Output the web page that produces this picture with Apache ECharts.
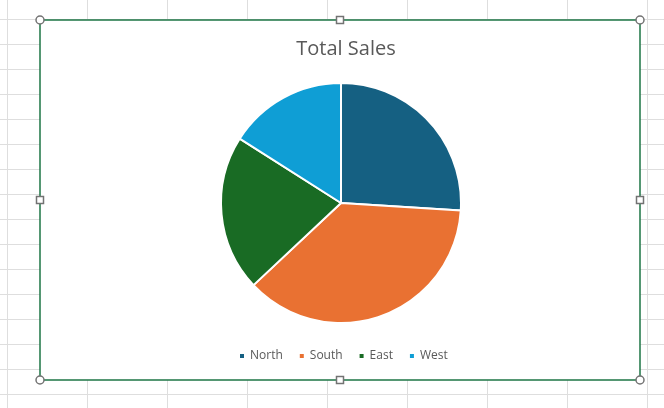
<!DOCTYPE html>
<html>
<head>
<meta charset="utf-8">
<script src="https://cdn.jsdelivr.net/npm/echarts@6/dist/echarts.min.js"></script>
<style>
  html, body { margin: 0; padding: 0; width: 664px; height: 408px; overflow: hidden; }
  body {
    background-color: #ffffff;
    background-image:
      linear-gradient(to right, #dedede 0, #dedede 1px, transparent 1px),
      linear-gradient(to bottom, #dedede 0, #dedede 1px, transparent 1px);
    background-size: 80px 25px;
    background-position: 7px 19px;
  }
  #chart { position: absolute; left: 0; top: 0; width: 664px; height: 408px; }
</style>
</head>
<body>
<div id="chart"></div>
<script>
const titleText = 'Total Sales';
const categories = ['North', 'South', 'East', 'West'];
const salesValues = [26, 37, 21, 16];
const sliceColors = ['#156082', '#E97132', '#196B24', '#0F9ED5'];

const chart = echarts.init(document.getElementById('chart'), null, { renderer: 'canvas' });

const box = { x: 40, y: 20, w: 600, h: 360 };
const handleStyle = { fill: '#ffffff', stroke: '#737373', lineWidth: 1.5 };
const handles = [];
const corners = [[box.x, box.y], [box.x + box.w, box.y], [box.x, box.y + box.h], [box.x + box.w, box.y + box.h]];
corners.forEach(function (c) {
  handles.push({ type: 'circle', shape: { cx: c[0], cy: c[1], r: 4 }, style: handleStyle, z: 20 });
});
const mids = [[box.x + box.w / 2, box.y], [box.x + box.w / 2, box.y + box.h], [box.x, box.y + box.h / 2], [box.x + box.w, box.y + box.h / 2]];
mids.forEach(function (c) {
  handles.push({ type: 'rect', shape: { x: c[0] - 3.5, y: c[1] - 3.5, width: 7, height: 7 }, style: handleStyle, z: 20 });
});

chart.setOption({
  backgroundColor: 'transparent',
  animation: false,
  title: {
    text: titleText,
    left: 341,
    textAlign: 'center',
    top: 34,
    textStyle: { fontFamily: 'Open Sans', fontSize: 20, fontWeight: 'normal', color: '#595959' }
  },
  legend: {
    data: categories,
    left: 238,
    top: 350,
    padding: 0,
    icon: 'rect',
    itemWidth: 6,
    itemHeight: 6,
    itemGap: 15,
    textStyle: { fontFamily: 'Open Sans', fontSize: 12, color: '#595959' }
  },
  graphic: [
    { type: 'rect', shape: { x: box.x, y: box.y, width: box.w, height: box.h },
      style: { fill: '#ffffff', stroke: '#1e7545', lineWidth: 1.5 }, z: -10, silent: true }
  ].concat(handles),
  series: [{
    type: 'pie',
    center: [341, 203],
    radius: 120,
    startAngle: 90,
    clockwise: true,
    label: { show: false },
    labelLine: { show: false },
    itemStyle: { borderColor: '#ffffff', borderWidth: 2 },
    data: categories.map(function (name, i) {
      return { name: name, value: salesValues[i], itemStyle: { color: sliceColors[i] } };
    })
  }]
});
</script>
</body>
</html>
